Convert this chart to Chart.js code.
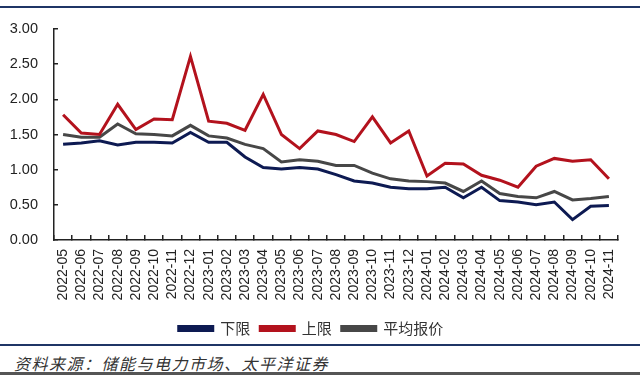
<!DOCTYPE html>
<html>
<head>
<meta charset="utf-8">
<script src="https://cdn.jsdelivr.net/npm/chart.js@4.4.1/dist/chart.umd.min.js"></script>
<style>
  body { margin: 0; background: #fff; width: 640px; height: 375px; overflow: hidden; position: relative; font-family: "Liberation Sans", Arial, sans-serif; }
  #topline { position: absolute; left: 0; top: 6px; width: 640px; height: 2px; background: #1f3566; }
  #wrap { position: absolute; left: 0; top: 0; width: 640px; height: 346px; }
  #botline { position: absolute; left: 0; top: 344px; width: 640px; height: 2px; background: #1f3566; }
  #source { position: absolute; left: 14px; top: 351px; font-size: 16px; font-style: italic; color: #333; font-family: "Noto Sans CJK SC", sans-serif; letter-spacing: 1.5px; }
  #strip { position: absolute; left: 0; top: 372px; width: 640px; height: 3px; background: #555; }
</style>
</head>
<body>
<div id="topline"></div>
<div id="wrap"><canvas id="chart"></canvas></div>
<div id="botline"></div>
<div id="source">资料来源：储能与电力市场、太平洋证券</div>
<div id="strip"></div>
<script>
const MONTHS = [
  "2022-05", "2022-06", "2022-07", "2022-08", "2022-09", "2022-10", "2022-11", "2022-12",
  "2023-01", "2023-02", "2023-03", "2023-04", "2023-05", "2023-06", "2023-07", "2023-08",
  "2023-09", "2023-10", "2023-11", "2023-12", "2024-01", "2024-02", "2024-03", "2024-04",
  "2024-05", "2024-06", "2024-07", "2024-08", "2024-09", "2024-10", "2024-11"
];
const LOWER = [
  1.36, 1.38, 1.41, 1.35, 1.39, 1.39, 1.38, 1.53,
  1.39, 1.39, 1.18, 1.03, 1.01, 1.03, 1.01, 0.93,
  0.84, 0.81, 0.75, 0.73, 0.73, 0.75, 0.60, 0.75,
  0.56, 0.54, 0.50, 0.54, 0.29, 0.48, 0.49
];
const UPPER = [
  1.78, 1.52, 1.50, 1.93, 1.57, 1.72, 1.71, 2.61,
  1.69, 1.66, 1.56, 2.07, 1.50, 1.30, 1.55, 1.50,
  1.40, 1.75, 1.38, 1.55, 0.91, 1.09, 1.08, 0.92,
  0.85, 0.75, 1.05, 1.16, 1.12, 1.14, 0.87
];
const AVERAGE = [
  1.50, 1.46, 1.46, 1.65, 1.51, 1.50, 1.48, 1.63,
  1.48, 1.45, 1.36, 1.30, 1.11, 1.14, 1.12, 1.06,
  1.06, 0.95, 0.87, 0.84, 0.83, 0.81, 0.69, 0.84,
  0.66, 0.62, 0.60, 0.69, 0.57, 0.59, 0.62
];
const SERIES_NAMES = ["下限", "上限", "平均报价"];
const COLORS = ["#0d1a52", "#b3121d", "#474747"];

function line(label, data, color) {
  return {
    label: label,
    data: data,
    borderColor: color,
    backgroundColor: color,
    borderWidth: 3,
    pointRadius: 0,
    tension: 0
  };
}

new Chart(document.getElementById("chart"), {
  type: "line",
  data: {
    labels: MONTHS,
    datasets: [
      line(SERIES_NAMES[0], LOWER, COLORS[0]),
      line(SERIES_NAMES[1], UPPER, COLORS[1]),
      line(SERIES_NAMES[2], AVERAGE, COLORS[2])
    ]
  },
  options: {
    responsive: true,
    maintainAspectRatio: false,
    animation: false,
    layout: { padding: { top: 29, right: 18, left: 0, bottom: 0 } },
    plugins: {
      tooltip: { enabled: false },
      legend: {
        position: "bottom",
        labels: {
          boxWidth: 34,
          boxHeight: 4,
          padding: 10,
          color: "#333",
          font: { size: 15, family: "'Noto Sans CJK SC', sans-serif" }
        }
      }
    },
    scales: {
      x: {
        offset: true,
        grid: { offset: true, drawOnChartArea: false, tickLength: -5, color: "#222", lineWidth: 1.5 },
        border: { color: "#222", width: 1.5 },
        ticks: {
          color: "#222",
          maxRotation: 90,
          minRotation: 90,
          autoSkip: false,
          padding: 14,
          font: { size: 14, family: "'Liberation Sans', Arial, sans-serif" }
        },
        afterFit: function (scale) { scale.height = 71; }
      },
      y: {
        min: 0,
        max: 3,
        grid: { drawOnChartArea: false, tickLength: -4, color: "#222", lineWidth: 1.5 },
        border: { color: "#222", width: 1.5 },
        ticks: {
          stepSize: 0.5,
          color: "#222",
          padding: 20,
          font: { size: 14.5, family: "'Liberation Sans', Arial, sans-serif" },
          callback: function (v) { return v.toFixed(2); }
        },
        afterFit: function (scale) { scale.width = 54; }
      }
    }
  }
});
</script>
</body>
</html>
